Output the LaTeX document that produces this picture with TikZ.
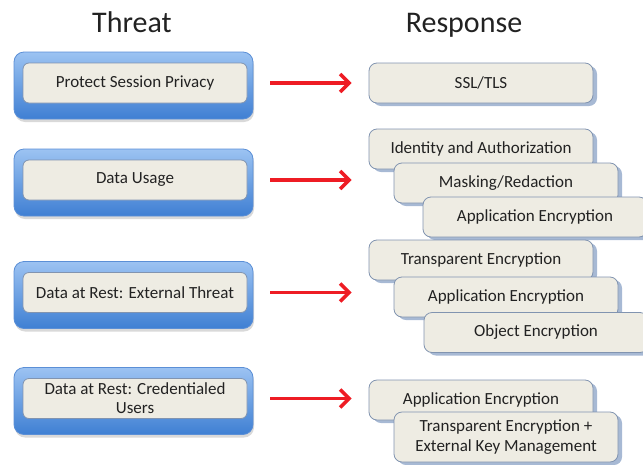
\documentclass[tikz,border=0pt]{standalone}
\usepackage{fontspec}
\setmainfont{Carlito}
\usetikzlibrary{arrows.meta,shadows}
\definecolor{slateline}{HTML}{8194B0}
\definecolor{creamfill}{HTML}{EEECE3}
\definecolor{blueline}{HTML}{5B8FD6}
\definecolor{bluetop}{HTML}{9CC3F2}
\definecolor{bluebottom}{HTML}{3F7FD3}
\definecolor{arrowred}{HTML}{EE1C24}
\definecolor{shadowblue}{HTML}{A7B9D4}
\definecolor{textgray}{HTML}{222222}

\begin{document}
\begin{tikzpicture}[x=1pt, y=-1pt, >={Straight Barb[length=9pt,width=18pt]},
	heading/.style={font=\fontsize{30}{36}\selectfont, text=textgray, anchor=base},
	panel/.style={draw=blueline, line width=0.8pt, rounded corners=10pt, top color=bluetop, bottom color=bluebottom,
		minimum width=239pt, minimum height=67pt, drop shadow={shadow xshift=1pt, shadow yshift=-3pt, opacity=0.3}},
	threat/.style={draw=slateline, line width=0.8pt, fill=creamfill, rounded corners=6pt, minimum width=224pt,
		minimum height=40pt, inner sep=1pt, align=center, text=textgray, font=\fontsize{17}{19}\selectfont},
	response/.style={threat, rounded corners=8pt, drop shadow={shadow xshift=4pt, shadow yshift=-3pt, fill=shadowblue, opacity=1}},
	remedy/.style={draw=arrowred, line width=3.5pt, ->, shorten <=23pt, shorten >=17pt}]
	\useasboundingbox (0,0) rectangle (643,464);

	\node[heading] (hthreat) at (132, 32) {Threat};
	\node[heading] (hresponse) at (464, 32) {Response};

	\node[panel] (pn1) at (133.5, 85.5) {};
	\node[threat] (th1) at (135, 83) {Protect Session Privacy};
	\node[panel] (pn2) at (133.5, 182.5) {};
	\node[threat] (th2) at (135, 180) {Data Usage};
	\node[panel] (pn3) at (133.5, 295) {};
	\node[threat] (th3) at (135, 292.5) {Data at Rest: External Threat};
	\node[panel] (pn4) at (133.5, 401) {};
	\node[threat] (th4) at (135, 398.5) {Data at Rest: Credentialed\\Users};

	\node[response] (rs1) at (481, 83) {SSL/TLS};

	\node[response] (rs2a) at (481, 149) {Identity and Authorization};
	\node[response] (rs2b) at (506, 183) {Masking/Redaction};
	\node[response] (rs2c) at (535, 217) {Application Encryption};

	\node[response] (rs3a) at (481, 260) {Transparent Encryption};
	\node[response] (rs3b) at (506, 297) {Application Encryption};
	\node[response] (rs3c) at (536, 332.5) {Object Encryption};

	\node[response] (rs4a) at (481, 400) {Application Encryption};
	\node[response, minimum height=50pt, font=\fontsize{17}{20}\selectfont] (rs4b) at (506, 437) {Transparent Encryption +\\External Key Management};

	\draw[remedy] (th1.east) -- (th1.east -| rs1.west);
	\draw[remedy] (th2.east) -- (th2.east -| rs2a.west);
	\draw[remedy] (th3.east) -- (th3.east -| rs3a.west);
	\draw[remedy] (th4.east) -- (th4.east -| rs4a.west);
\end{tikzpicture}
\end{document}
